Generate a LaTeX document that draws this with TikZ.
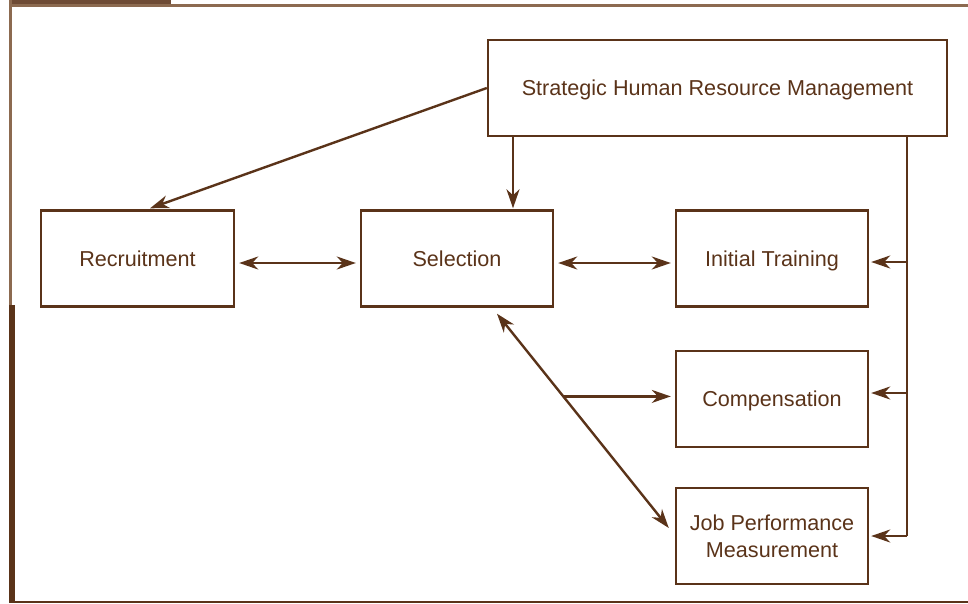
\documentclass[tikz,border=0pt]{standalone}
\usepackage{fontspec}
\setmainfont{Liberation Sans}
\usetikzlibrary{arrows.meta,calc}
\definecolor{ink}{HTML}{5A3319}
\definecolor{frameLight}{HTML}{8C6A50}
\definecolor{frameDark}{HTML}{5A3319}
\definecolor{tabDark}{HTML}{6E4B35}
\begin{document}
\begin{tikzpicture}[x=1pt,y=-1pt,
  box/.style={draw=ink,line width=2.4pt,inner sep=0pt,minimum width=192pt,minimum height=96pt,
    text=ink,font=\fontsize{21.6}{27.5}\selectfont,align=center,text depth=0pt},
  tip/.tip={Stealth[length=19pt,width=13pt,inset=6pt]},
  arr/.style={draw=ink,line width=2.4pt,-tip},
  darr/.style={draw=ink,line width=2.4pt,tip-tip},
  line/.style={draw=ink,line width=2.4pt}]
\useasboundingbox (0,0) rectangle (968,603);
% page frame
\fill[frameLight] (9,4) rectangle (968,6.5);
\fill[tabDark] (9,0) rectangle (171,4);
\fill[frameLight] (9,0) rectangle (12,305);
\fill[frameDark] (9,305) rectangle (15,603);
\fill[frameDark] (9,600.5) rectangle (968,603);
% boxes
\node[box,minimum width=459pt] (shrm) at (717.5,88) {Strategic Human Resource Management};
\node[box,minimum width=193pt] (rec) at (137.5,258.5) {Recruitment};
\node[box] (sel) at (457,258.5) {Selection};
\node[box] (it) at (772,258.5) {Initial Training};
\node[box] (comp) at (772,399) {Compensation};
\node[box] (jpm) at (772,536) {Job Performance\\Measurement};
% connectors from the top box
\draw[arr] (shrm.west) -- ([xshift=12.5pt,yshift=1pt]rec.north);
\coordinate (sx) at ([xshift=56pt,yshift=1pt]sel.north);
\draw[arr] (shrm.south -| sx) -- (sx);
\coordinate (bus) at ([xshift=-41pt]shrm.south east);
\coordinate (busIt) at ([yshift=-3.5pt]bus |- it.east);
\coordinate (busComp) at ([yshift=6pt]bus |- comp.east);
\coordinate (busJpm) at (bus |- jpm.east);
\draw[line] (bus) -- (busJpm);
\draw[arr,shorten >=2pt] (busIt) -- (it.east |- busIt);
\draw[arr,shorten >=2pt] (busComp) -- (comp.east |- busComp);
\draw[arr,shorten >=2pt] (busJpm) -- (jpm.east);
% links between the staffing boxes
\draw[darr,shorten <=4pt,shorten >=4pt] ([yshift=-4.5pt]rec.east) -- ([yshift=-4.5pt]sel.west);
\draw[darr,shorten <=4pt,shorten >=4pt] ([yshift=-4.5pt]sel.east) -- ([yshift=-4.5pt]it.west);
\coordinate (dTop) at ([xshift=40pt,yshift=-6pt]sel.south);
\coordinate (dBot) at ([xshift=-6pt,yshift=8pt]jpm.west);
\draw[darr] (dTop) -- (dBot);
\coordinate (branch) at ($(dTop)!0.386!(dBot)$);
\draw[arr,shorten >=4pt] (branch) -- (comp.west |- branch);
\end{tikzpicture}
\end{document}
